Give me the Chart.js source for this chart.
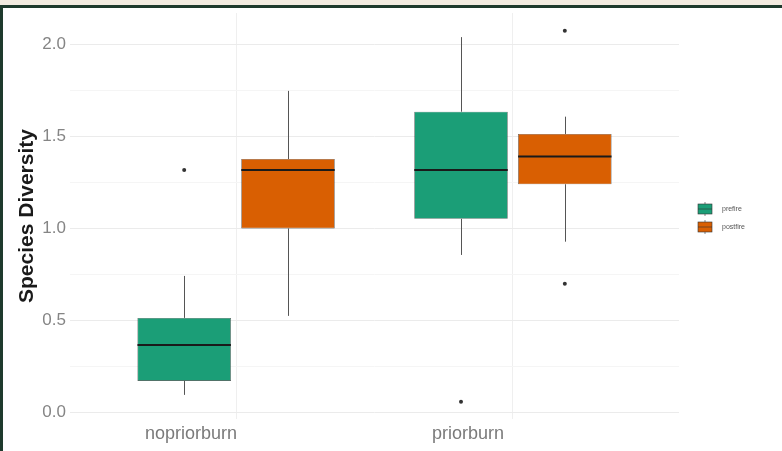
<!DOCTYPE html>
<html>
<head>
<meta charset="utf-8">
<script src="https://cdn.jsdelivr.net/npm/chart.js@4"></script>
<style>
  html, body { margin: 0; padding: 0; background: #f2ebe0; }
  #frame {
    position: absolute; left: 0; top: 5px;
    width: 779px; height: 443px;
    border-top: 3px solid #1e3a2d; border-left: 3px solid #1e3a2d;
    background: #fff;
  }
  canvas { display: block; }
</style>
</head>
<body>
<div id="frame"><canvas id="chart" width="779" height="443"></canvas></div>
<script>
// groups on the x axis
const categories = ["nopriorburn", "priorburn"];
const seriesNames = ["prefire", "postfire"];

// prefire boxes
const prefireLow = [0.096, 0.856];
const prefireQ1 = [0.172, 1.052];
const prefireMedian = [0.367, 1.318];
const prefireQ3 = [0.514, 1.634];
const prefireHigh = [0.742, 2.039];
const prefireOutliers = [[1.318], [0.059]];

// postfire boxes
const postfireLow = [0.525, 0.928];
const postfireQ1 = [1.0, 1.24];
const postfireMedian = [1.318, 1.39];
const postfireQ3 = [1.377, 1.513];
const postfireHigh = [1.747, 1.607];
const postfireOutliers = [[], [2.073, 0.699]];

const yTicks = [0, 0.5, 1, 1.5, 2];
const yMinorTicks = [0.25, 0.75, 1.25, 1.75];

const colors = ["#1b9e77", "#d95f02"];

function boxData(q1, q3) {
  return categories.map((c, i) => ({ x: i + 1, y: [q1[i], q3[i]] }));
}

// whiskers, medians and outliers on top of the floating bars
const boxExtras = {
  id: "boxExtras",
  afterDatasetsDraw(chart) {
    const ctx = chart.ctx;
    const y = chart.scales.y;
    chart.data.datasets.forEach((ds, d) => {
      const meta = chart.getDatasetMeta(d);
      const st = ds.stats;
      meta.data.forEach((bar, i) => {
        const x = Math.round(bar.x) + 0.5;
        const half = bar.width / 2;
        ctx.save();
        ctx.strokeStyle = "#555";
        ctx.lineWidth = 1;
        ctx.beginPath();
        ctx.moveTo(x, y.getPixelForValue(st.high[i]));
        ctx.lineTo(x, y.getPixelForValue(st.q3[i]));
        ctx.moveTo(x, y.getPixelForValue(st.q1[i]));
        ctx.lineTo(x, y.getPixelForValue(st.low[i]));
        ctx.stroke();

        ctx.strokeStyle = "#1a1a1a";
        ctx.lineWidth = 2;
        const m = y.getPixelForValue(st.median[i]);
        ctx.beginPath();
        ctx.moveTo(bar.x - half, m);
        ctx.lineTo(bar.x + half, m);
        ctx.stroke();

        ctx.fillStyle = "#333";
        st.outliers[i].forEach(v => {
          ctx.beginPath();
          ctx.arc(bar.x, y.getPixelForValue(v), 2, 0, Math.PI * 2);
          ctx.fill();
        });
        ctx.restore();
      });
    });
  },
  afterDraw(chart) {
    const ctx = chart.ctx;
    const area = chart.chartArea;
    const mid = (area.top + area.bottom) / 2;
    const kx = area.right + 19;
    ctx.save();
    seriesNames.forEach((name, i) => {
      const ky = mid - 12 + i * 18;
      ctx.fillStyle = colors[i];
      ctx.fillRect(kx, ky, 14, 10);
      ctx.strokeStyle = "#333";
      ctx.lineWidth = 0.6;
      ctx.strokeRect(kx, ky, 14, 10);
      ctx.beginPath();
      ctx.moveTo(kx, ky + 5);
      ctx.lineTo(kx + 14, ky + 5);
      ctx.moveTo(kx + 7, ky - 2);
      ctx.lineTo(kx + 7, ky);
      ctx.moveTo(kx + 7, ky + 10);
      ctx.lineTo(kx + 7, ky + 12);
      ctx.stroke();
      ctx.fillStyle = "#555";
      ctx.font = "7px 'Liberation Sans', Arial, sans-serif";
      ctx.textBaseline = "middle";
      ctx.fillText(name, kx + 24, ky + 5);
    });
    ctx.restore();
  }
};

new Chart(document.getElementById("chart"), {
  type: "bar",
  data: {
    datasets: [
      {
        label: seriesNames[0],
        data: boxData(prefireQ1, prefireQ3),
        backgroundColor: colors[0],
        stats: { low: prefireLow, q1: prefireQ1, median: prefireMedian, q3: prefireQ3, high: prefireHigh, outliers: prefireOutliers }
      },
      {
        label: seriesNames[1],
        data: boxData(postfireQ1, postfireQ3),
        backgroundColor: colors[1],
        stats: { low: postfireLow, q1: postfireQ1, median: postfireMedian, q3: postfireQ3, high: postfireHigh, outliers: postfireOutliers }
      }
    ]
  },
  options: {
    responsive: false,
    animation: false,
    layout: { padding: { top: 5, right: 103, left: 0, bottom: 0 } },
    datasets: {
      bar: {
        categoryPercentage: 0.75,
        barPercentage: 0.9,
        borderColor: "#333",
        borderWidth: 0.6,
        borderSkipped: false
      }
    },
    plugins: {
      legend: { display: false },
      tooltip: { enabled: false }
    },
    scales: {
      x: {
        type: "linear",
        offset: false,
        min: 0.4,
        max: 2.6,
        afterBuildTicks: s => { s.ticks = categories.map((c, i) => ({ value: i + 1 })); },
        afterFit: s => { s.height = 32; s.paddingLeft = 0; s.paddingRight = 0; },
        border: { display: false },
        grid: { color: "#efefef", drawTicks: false, offset: false },
        ticks: {
          padding: 4,
          labelOffset: -45,
          color: "#7a7a7a",
          font: { family: "'Liberation Sans', Arial, sans-serif", size: 18 },
          callback: v => categories[Math.round(v) - 1]
        }
      },
      y: {
        min: -0.035,
        max: 2.17,
        afterBuildTicks: s => {
          s.ticks = yTicks.concat(yMinorTicks).sort((a, b) => a - b).map(v => ({ value: v }));
        },
        afterFit: s => { s.width = 67; s.paddingTop = 0; s.paddingBottom = 0; },
        border: { display: false },
        grid: {
          drawTicks: false,
          color: c => (yTicks.includes(c.tick.value) ? "#ebebeb" : "#f5f5f5")
        },
        ticks: {
          padding: 4,
          color: "#858585",
          font: { family: "'Liberation Sans', Arial, sans-serif", size: 17 },
          callback: v => (yTicks.includes(v) ? v.toFixed(1) : "")
        },
        title: {
          display: true,
          text: "Species Diversity",
          color: "#1a1a1a",
          padding: { top: 12, bottom: 0 },
          font: { family: "'Liberation Sans', Arial, sans-serif", size: 21, weight: "bold" }
        }
      }
    }
  },
  plugins: [boxExtras]
});
</script>
</body>
</html>
